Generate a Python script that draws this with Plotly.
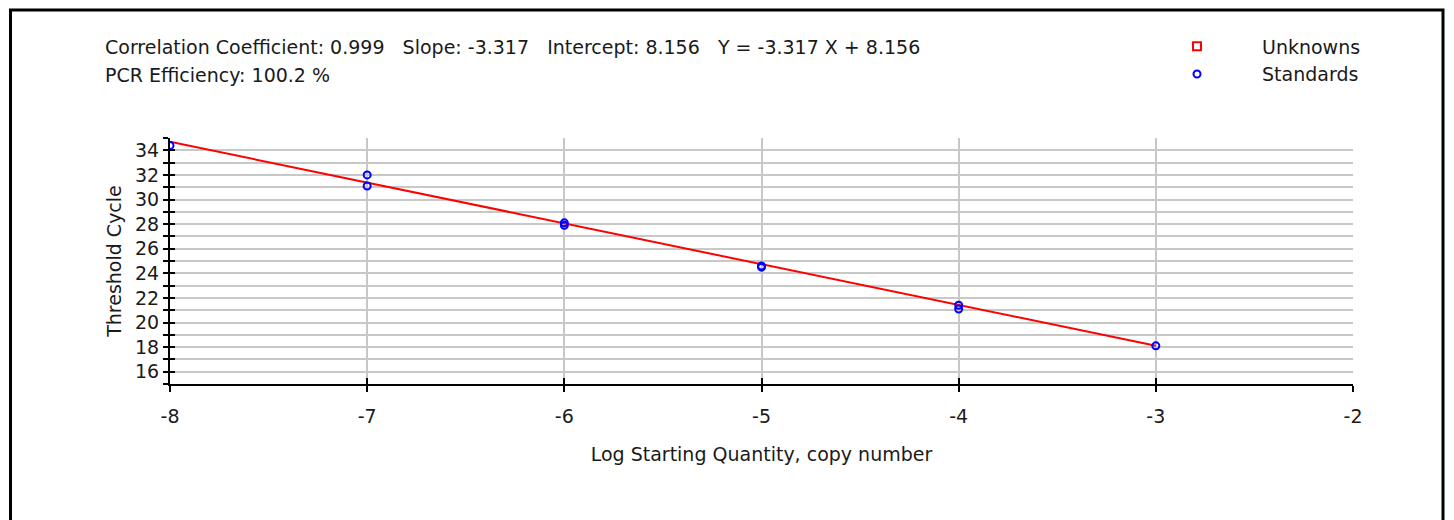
import plotly.graph_objects as go

# Standard curve data
std_log_qty = [-8, -7, -7, -6, -6, -5, -5, -4, -4, -3]
std_ct = [34.4, 32.0, 31.1, 28.1, 27.9, 24.6, 24.5, 21.4, 21.1, 18.1]

# no unknowns were run
unk_log_qty = [None]
unk_ct = [None]

slope = -3.317
intercept = 8.156
fit_x = [-8, -3]
fit_y = [slope * x + intercept for x in fit_x]

x_ticks = [-8, -7, -6, -5, -4, -3, -2]
x_tick_labels = ["-8", "-7", "-6", "-5", "-4", "-3", "-2"]
y_ticks = [16, 18, 20, 22, 24, 26, 28, 30, 32, 34]
y_tick_labels = [str(v) for v in y_ticks]

header_line1 = ("Correlation Coefficient: 0.999   Slope: -3.317   "
                "Intercept: 8.156   Y = -3.317 X + 8.156")
header_line2 = "PCR Efficiency: 100.2 %"

FONT = "DejaVu Sans"
GRID = "#c8c8c8"

# the page body adds 8px, so positions below are page coords minus 8
OFF = 8
PX0, PX1 = 170 - OFF, 1353 - OFF
PY0, PY1 = 137.7 - OFF, 384 - OFF
pw, ph = PX1 - PX0, PY1 - PY0


def px(x):
    return (x - OFF - PX0) / pw


def py(y):
    return 1 + (PY0 - (y - OFF)) / ph


fig = go.Figure()

fig.add_trace(go.Scatter(
    x=fit_x, y=fit_y, mode="lines",
    line=dict(color="#ff0000", width=2),
    showlegend=False, hoverinfo="skip"
))

fig.add_trace(go.Scatter(
    x=unk_log_qty, y=unk_ct, mode="markers", name="Unknowns",
    marker=dict(symbol="square-open", size=8, color="#ff0000",
                line=dict(width=2))
))

fig.add_trace(go.Scatter(
    x=std_log_qty, y=std_ct, mode="markers", name="Standards",
    marker=dict(symbol="circle-open", size=7, color="#0000ff",
                line=dict(width=2))
))

fig.update_layout(
    width=1454 - OFF, height=520 - OFF,
    margin=dict(l=PX0, r=1454 - OFF - PX1, t=PY0, b=520 - OFF - PY1),
    paper_bgcolor="white", plot_bgcolor="white",
    font=dict(family=FONT, size=19, color="#1a1a1a"),
    legend=dict(
        x=px(1132), y=py(27),
        xanchor="left", yanchor="top",
        bgcolor="rgba(0,0,0,0)", itemwidth=120,
        font=dict(size=19), tracegroupgap=0
    ),
    xaxis=dict(
        range=[-8, -2], tickvals=x_ticks, ticktext=x_tick_labels,
        showgrid=True, gridcolor=GRID, gridwidth=2,
        showline=True, linecolor="black", linewidth=2,
        ticks="outside", ticklen=6, tickwidth=2, tickcolor="black",
        ticklabelstandoff=8,
        zeroline=False,
        title=dict(text="Log Starting Quantity, copy number",
                   font=dict(size=19), standoff=22),
        tickfont=dict(size=19),
    ),
    yaxis=dict(
        range=[15, 35], tickvals=y_ticks, ticktext=y_tick_labels,
        showgrid=True, gridcolor=GRID, gridwidth=2,
        showline=True, linecolor="black", linewidth=2,
        ticks="outside", ticklen=5, tickwidth=2, tickcolor="black",
        minor=dict(dtick=1, tick0=15, showgrid=True, gridcolor=GRID,
                   gridwidth=2, ticks="outside", ticklen=5, tickwidth=2,
                   tickcolor="black"),
        zeroline=False,
        title=dict(text="Threshold Cycle", font=dict(size=19), standoff=8),
        tickfont=dict(size=19),
    ),
    # overlay axes only to draw the inner half of the crossing ticks
    xaxis2=dict(
        overlaying="x", matches="x", side="bottom", anchor="y",
        tickvals=x_ticks, showticklabels=False, showgrid=False,
        ticks="inside", ticklen=6, tickwidth=2, tickcolor="black",
        zeroline=False, showline=False,
    ),
    yaxis2=dict(
        overlaying="y", matches="y", side="left", anchor="x",
        tickvals=y_ticks, showticklabels=False, showgrid=False,
        ticks="inside", ticklen=5, tickwidth=2, tickcolor="black",
        minor=dict(dtick=1, tick0=15, ticks="inside", ticklen=5,
                   tickwidth=2, tickcolor="black"),
        zeroline=False, showline=False,
    ),
)

# empty trace so the overlay axes get drawn
fig.add_trace(go.Scatter(x=[None], y=[None], xaxis="x2", yaxis="y2",
                         showlegend=False, hoverinfo="skip"))

fig.add_annotation(
    xref="paper", yref="paper", x=px(103), y=py(47),
    xanchor="left", yanchor="middle", showarrow=False,
    text=header_line1, font=dict(size=19)
)
fig.add_annotation(
    xref="paper", yref="paper", x=px(103), y=py(75),
    xanchor="left", yanchor="middle", showarrow=False,
    text=header_line2, font=dict(size=19)
)

# outer frame
fig.add_shape(
    type="rect", xref="paper", yref="paper",
    x0=px(10.5), x1=px(1443), y0=-1, y1=py(9.5),
    line=dict(color="black", width=3), layer="below"
)

fig.write_html("out.html")
